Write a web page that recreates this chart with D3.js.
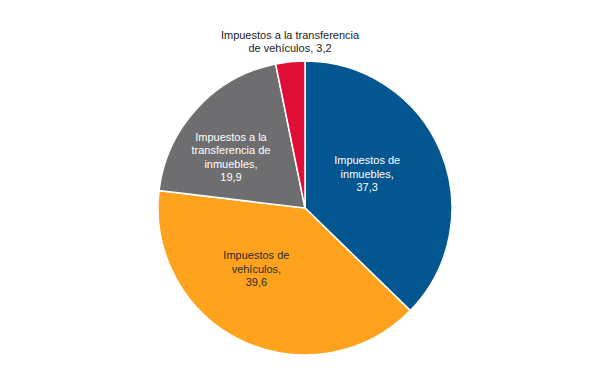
<!DOCTYPE html>
<html>
<head>
<meta charset="utf-8">
<script src="https://cdn.jsdelivr.net/npm/d3@7"></script>
<style>
  body { margin: 0; background: #fff; }
  text { font-family: "Liberation Sans", Arial, sans-serif; font-size: 11px; }
</style>
</head>
<body>
<svg id="drawing_region"></svg>
<script>
// datos del gráfico (porcentajes)
const categories = [
    ['Impuestos de', 'inmuebles,'],
    ['Impuestos de', 'vehículos,'],
    ['Impuestos a la', 'transferencia de', 'inmuebles,'],
    ['Impuestos a la transferencia', 'de vehículos,']
];
const values = [37.3, 39.6, 19.9, 3.2];
const valueLabels = ['37,3', '39,6', '19,9', '3,2'];
const colors = ['#03568f', '#ffa31f', '#6e6e70', '#e00d36'];
const textColors = ['#ffffff', '#2a2a2a', '#ffffff', '#222222'];

const config = {
    width: 600,
    height: 391,
    cx: 305,
    cy: 208,
    radius: 147
};

const svg = d3.select('#drawing_region')
    .attr('width', config.width)
    .attr('height', config.height);

const chart = svg.append('g')
    .attr('transform', `translate(${config.cx}, ${config.cy})`);

const data = values.map((v, i) => ({ value: v, i: i }));

const pie = d3.pie()
    .value(d => d.value)
    .sort(null);

const arc = d3.arc()
    .innerRadius(0)
    .outerRadius(config.radius);

const arcs = pie(data);

chart.selectAll('path')
    .data(arcs)
    .enter()
    .append('path')
    .attr('d', arc)
    .attr('fill', d => colors[d.data.i])
    .attr('stroke', 'white')
    .style('stroke-width', '1.5px');

// posición de etiquetas: radio por sector, la pequeña va fuera
const labelRadius = [71, 78, 90, 0];
const labelAngleShift = [-6, 13, -8, 0];

function labelPos(d) {
    const i = d.data.i;
    if (i === 3) return [290 - config.cx, 35 - config.cy];
    const a = (d.startAngle + d.endAngle) / 2 + labelAngleShift[i] * Math.PI / 180;
    const r = labelRadius[i];
    return [r * Math.sin(a), -r * Math.cos(a)];
}

const labels = chart.selectAll('.label')
    .data(arcs)
    .enter()
    .append('text')
    .attr('class', 'label')
    .attr('text-anchor', 'middle')
    .attr('fill', d => textColors[d.data.i]);

labels.each(function (d) {
    const i = d.data.i;
    const [x, y] = labelPos(d);
    let lines = categories[i].slice();
    if (i === 3) {
        lines[lines.length - 1] += ' ' + valueLabels[i];
    } else {
        lines.push(valueLabels[i]);
    }
    const lh = i === 3 ? 12.5 : 13.5;
    const y0 = y - (i === 3 ? 0 : (lines.length - 1) * lh / 2) + 4;
    d3.select(this).selectAll('tspan')
        .data(lines)
        .enter()
        .append('tspan')
        .attr('x', x)
        .attr('y', (l, k) => y0 + k * lh)
        .text(l => l);
});
</script>
</body>
</html>
